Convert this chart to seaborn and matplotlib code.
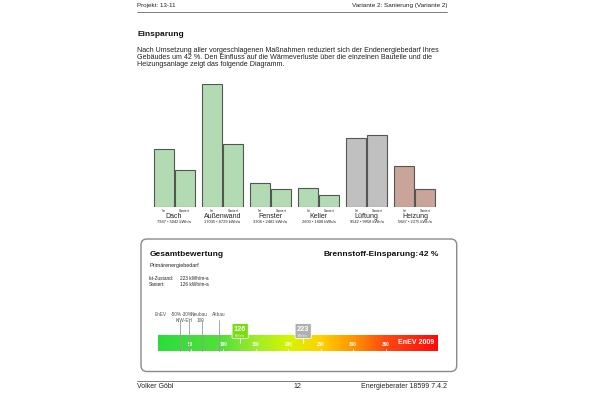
import matplotlib
matplotlib.use('Agg')

import numpy as np
import pandas as pd
import seaborn as sns
import matplotlib.pyplot as plt
from matplotlib.patches import FancyBboxPatch
from matplotlib.colors import LinearSegmentedColormap

# Einsparung pro Bauteil (kWh/a)
categories = ['Dach', 'Außenwand', 'Fenster', 'Keller', 'Lüftung', 'Heizung']
ist = [7947, 17045, 3306, 2600, 9542, 5687]
saniert = [5042, 8729, 2482, 1608, 9958, 2375]
states = ['Ist', 'Saniert']

# Primärenergie-Skala (kWh/m²a)
ist_zustand = 223
saniert_wert = 126
einsparung = 42
scale_ticks = [50, 100, 150, 200, 250, 300, 350]
ref_values = [33, 48, 68, 93]

bar_colors = ['#b3dbb3', '#b3dbb3', '#b3dbb3', '#b3dbb3', '#c0c0c0', '#c8a598']

df = pd.DataFrame({
    'Bauteil': categories * 2,
    'Zustand': ['Ist'] * len(categories) + ['Saniert'] * len(categories),
    'kWh': ist + saniert,
})

sns.set_theme(style='white')
plt.rcParams['font.family'] = ['Liberation Sans', 'DejaVu Sans']

fig = plt.figure(figsize=(6, 4), dpi=100)
fig.patch.set_facecolor('white')

# overlay in pixel coords for page text
pg = fig.add_axes([0, 0, 1, 1])
pg.set_xlim(0, 600)
pg.set_ylim(400, 0)
pg.axis('off')

txt = '#222222'
L, R = 137, 447
pg.text(L, 6, 'Projekt: 13-11', fontsize=4.5, color=txt, va='center')
pg.text(R, 6, 'Variante 2: Sanierung (Variante 2)', fontsize=4.6, color=txt,
        va='center', ha='right')
pg.plot([L, R], [11.5, 11.5], color='#666666', lw=0.6)

pg.text(L, 34, 'Einsparung', fontsize=6.0, fontweight='bold', color='#111111', va='center')
pg.text(L, 46.5,
        'Nach Umsetzung aller vorgeschlagenen Maßnahmen reduziert sich der Endenergiebedarf Ihres\n'
        'Gebäudes um 42 %. Den Einfluss auf die Wärmeverluste über die einzelnen Bauteile und die\n'
        'Heizungsanlage zeigt das folgende Diagramm.',
        fontsize=5.1, color=txt, va='top', linespacing=1.1)

# bar chart
ax = fig.add_axes([150 / 600, 1 - 206.5 / 400, 289 / 600, 122.5 / 400])
sns.barplot(data=df, x='Bauteil', y='kWh', hue='Zustand', hue_order=states,
            order=categories, width=0.87, gap=0.05, legend=False,
            edgecolor='#555555', linewidth=0.8, ax=ax)
for cont in ax.containers:
    for bar in cont:
        i = int(round(bar.get_x() + bar.get_width() / 2))
        bar.set_facecolor(bar_colors[i])
ax.set_xlim(-0.5, len(categories) - 0.5)
ax.set_ylim(0, max(ist + saniert))
ax.axis('off')

bar_w = 0.87 / 2
for i, cat in enumerate(categories):
    for j, st in enumerate(states):
        xc = i - 0.87 / 2 + bar_w * (j + 0.5)
        ax.text(xc, -0.018, st, transform=ax.get_xaxis_transform(),
                fontsize=2.4, ha='center', va='top', color=txt)
    ax.text(i, -0.05, cat, transform=ax.get_xaxis_transform(),
            fontsize=5.0, ha='center', va='top', color=txt)
    ax.text(i, -0.11, f'{ist[i]} • {saniert[i]} kWh/a', transform=ax.get_xaxis_transform(),
            fontsize=2.9, ha='center', va='top', color=txt)

# Gesamtbewertung panel
panel = FancyBboxPatch((141, 239), 315.7, 132.5, boxstyle='round,pad=0,rounding_size=6',
                       facecolor='white', edgecolor='#8a8a8a', lw=1.0)
pg.add_patch(panel)
pg.text(150, 254.5, 'Gesamtbewertung', fontsize=6, fontweight='bold', color='#111111', va='center')
pg.text(323, 254.5, 'Brennstoff-Einsparung:', fontsize=6, fontweight='bold', color='#111111',
        va='center')
pg.text(419, 254.5, f'{einsparung} %', fontsize=6, fontweight='bold', color='#111111',
        va='center', ha='left')
pg.text(149, 265, 'Primärenergiebedarf', fontsize=3.9, color=txt, va='center')
pg.text(149, 278, 'Ist-Zustand:', fontsize=3.4, color=txt, va='center')
pg.text(180, 278, f'{ist_zustand} kWh/m²a', fontsize=3.4, color=txt, va='center')
pg.text(149, 284.5, 'Saniert:', fontsize=3.4, color=txt, va='center')
pg.text(180, 284.5, f'{saniert_wert} kWh/m²a', fontsize=3.4, color=txt, va='center')

# reference labels
lab_c = '#555555'
fs_r = 3.4
pg.text(155, 315, 'EnEV', fontsize=fs_r, color=lab_c, va='center')
pg.text(170.5, 315, '-50%', fontsize=fs_r, color=lab_c, va='center')
pg.text(181.5, 315, '-30%', fontsize=fs_r, color=lab_c, va='center')
pg.text(191, 315, 'Neubau', fontsize=fs_r, color=lab_c, va='center')
pg.text(212, 315, 'Altbau', fontsize=fs_r, color=lab_c, va='center')
pg.text(175.5, 320, 'KfW-EH', fontsize=fs_r, color=lab_c, va='center')
pg.text(197, 320, '100', fontsize=fs_r, color=lab_c, va='center')

# gradient scale
sc = fig.add_axes([158.3 / 600, 1 - 350.7 / 400, 279.4 / 600, 15.7 / 400])
vmax = 430
cmap = LinearSegmentedColormap.from_list('enev', [
    (0.0, '#2ddc3c'), (0.23, '#55e03a'), (0.35, '#a0ec2a'), (0.465, '#d4f500'),
    (0.58, '#ffd200'), (0.70, '#ff9400'), (0.81, '#ff4a10'), (1.0, '#ff0a0a')])
sc.imshow(np.linspace(0, 1, 400)[None, :], cmap=cmap, aspect='auto',
          extent=[0, vmax, 0, 1], zorder=0)
sc.set_xlim(0, vmax)
sc.set_ylim(0, 1)
sc.axis('off')
for t in scale_ticks:
    sc.text(t, 0.42, str(t), color='white', fontsize=3.3, fontweight='bold',
            ha='center', va='center')
    sc.plot([t, t], [0, 0.12], color='white', lw=0.5)
sc.text(425, 0.52, 'EnEV 2009', color='white', fontsize=5, fontweight='bold',
        ha='right', va='center')
for r in ref_values:
    sc.plot([r, r], [0, 1.96], color='#9a9a9a', lw=0.6, clip_on=False, zorder=3)


def marker(v, col, edge):
    box = FancyBboxPatch((v - 12.5, 0.78), 25, 0.95, boxstyle='round,pad=0,rounding_size=1.5',
                         facecolor=col, edgecolor=edge, lw=0.6, clip_on=False, zorder=5,
                         mutation_aspect=0.05)
    sc.add_patch(box)
    sc.text(v, 1.38, str(v), color='white', fontsize=5.3, fontweight='bold',
            ha='center', va='center', zorder=6, clip_on=False)
    sc.text(v, 0.93, 'kWh/m²a', color='white', fontsize=1.8,
            ha='center', va='center', zorder=6, clip_on=False)
    sc.plot([v, v], [0.78, 0.5], color='white', lw=0.6, zorder=6, clip_on=False)


marker(saniert_wert, '#77dd11', '#ffffff')
marker(ist_zustand, '#b0b0b0', '#ffffff')

# footer
pg.plot([L, R], [381, 381], color='#666666', lw=0.6)
pg.text(L, 387, 'Volker Göbl', fontsize=5.0, color=txt, va='center')
pg.text(297, 387, '12', fontsize=5.0, color=txt, va='center', ha='center')
pg.text(R, 387, 'Energieberater 18599 7.4.2', fontsize=5.0, color=txt, va='center', ha='right')

fig.savefig('out.png', dpi=100, facecolor='white')
